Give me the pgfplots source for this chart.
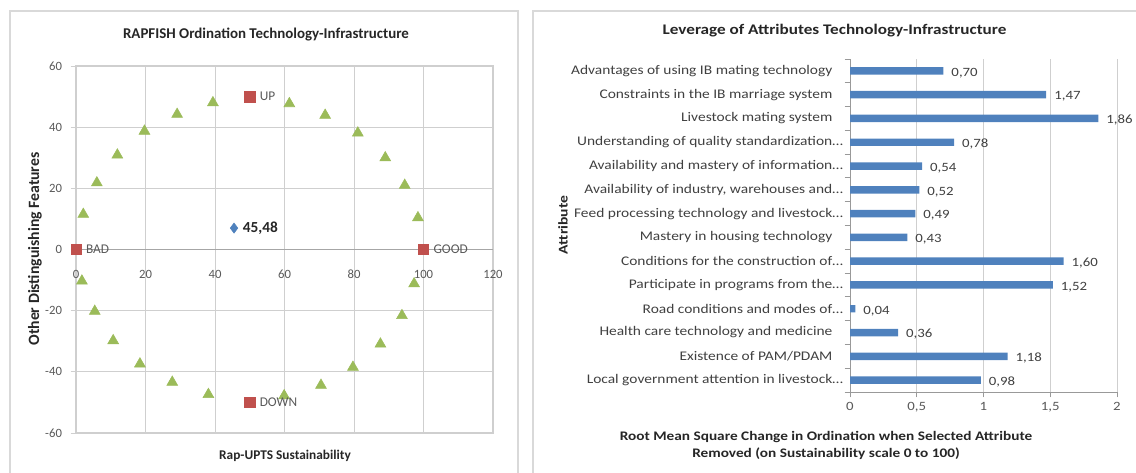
\documentclass[border=0pt]{standalone}
\usepackage{fontspec}
\setmainfont{Carlito}
\newfontfamily\rfont[FakeStretch=1.17]{Carlito}
\usepackage{pgfplots}
\pgfplotsset{compat=1.18}
\definecolor{tri}{HTML}{9BBB59}
\definecolor{sq}{HTML}{C0504D}
\definecolor{dia}{HTML}{4F81BD}
\definecolor{barc}{HTML}{4F81BD}
\definecolor{txt}{HTML}{595959}
\definecolor{lab}{HTML}{404040}
\definecolor{dark}{HTML}{262626}
\definecolor{gridc}{HTML}{CFCFCF}
\definecolor{bord}{HTML}{D9D9D9}
\newcommand{\pad}{\rule{8pt}{0pt}}
\begin{document}
\begin{tikzpicture}
\useasboundingbox (0pt,0pt) rectangle (852pt,354.75pt);
\draw[bord, line width=0.9pt] (7.5pt,-7.5pt) rectangle (388.5pt,346.5pt);
\draw[bord, line width=0.9pt] (399.75pt,-7.5pt) rectangle (858.75pt,346.5pt);
% ---------------- left chart ----------------
\node[font=\bfseries\fontsize{11.2}{13}\selectfont, text=dark] at (199.5pt,328.5pt) {RAPFISH Ordination Technology-Infrastructure};
\node[font=\bfseries\fontsize{10}{12}\selectfont, text=dark] at (213.75pt,12.75pt) {Rap-UPTS Sustainability};
\node[font=\bfseries\fontsize{11.8}{13}\selectfont, text=dark, rotate=90] at (26.25pt,168pt) {Other Distinguishing Features};
\begin{axis}[
  at={(57pt,30pt)}, anchor=south west, scale only axis,
  width=312.75pt, height=275.25pt,
  xmin=0, xmax=120, ymin=-60, ymax=60,
  xtick={0,20,...,120}, ytick={-60,-40,...,60},
  grid=major, grid style={gridc, line width=0.7pt},
  axis line style={gridc, line width=0.8pt},
  /pgf/number format/assume math mode=true,
  tick label style={font=\fontsize{9.5}{11}\selectfont, text=txt},
  xtick style={draw=none},
  ytick pos=left, tick align=outside, major tick length=4pt,
  ytick style={gridc, line width=0.7pt},
  xticklabel style={anchor=center, yshift=123.25pt},
  yticklabel style={xshift=-3pt},
  clip=false,
]
\draw[gray!70, line width=0.7pt] (axis cs:0,0) -- (axis cs:120,0);
\addplot[only marks, mark=triangle*, mark size=4.7pt, color=tri] coordinates {
(2.1,11.5)(6,21.8)(11.9,30.9)(19.7,38.7)(29.1,44.2)(39.4,48.0)
(61.4,47.7)(71.7,43.9)(81.1,38.1)(89,30.0)(94.6,21.0)(98.4,10.4)
(97.3,-11.2)(93.8,-21.6)(87.6,-30.9)(79.7,-38.5)(70.5,-44.4)(59.9,-47.8)
(38.1,-47.4)(27.7,-43.4)(18.4,-37.4)(10.7,-29.8)(5.4,-20.2)(1.7,-10.3)
};
\addplot[only marks, mark=square*, mark size=3.9pt, color=sq,
  nodes near coords, point meta=explicit symbolic,
  every node near coord/.append style={anchor=west, xshift=4pt, text=txt, font=\fontsize{10}{12}\selectfont}]
  table[meta=lab, row sep=\\] {
x y lab\\
0 0 BAD\\
100 0 GOOD\\
50 50 UP\\
50 -50 DOWN\\
};
\addplot[only marks, mark=diamond*, mark size=3.8pt, color=dia,
  nodes near coords={45,48}, point meta=explicit symbolic,
  every node near coord/.append style={anchor=west, xshift=3pt, text=dark, font=\bfseries\fontsize{11.5}{13}\selectfont}]
  coordinates {(45.48,7)};
\end{axis}
% ---------------- right chart ----------------
\node[font=\rfont\bfseries\fontsize{11}{13}\selectfont, text=dark] at (625.9pt,331.5pt) {Leverage of Attributes Technology-Infrastructure};
\node[font=\rfont\bfseries\fontsize{9.8}{12.75}\selectfont, text=dark, align=center] at (619.5pt,21pt) {Root Mean Square Change in Ordination when Selected Attribute\\Removed (on Sustainability scale 0 to 100)};
\node[font=\rfont\bfseries\fontsize{10}{12}\selectfont, text=dark, rotate=90] at (422.25pt,186pt) {Attribute};
\begin{axis}[
  at={(637.5pt,60.75pt)}, anchor=south west, scale only axis,
  width=200.25pt, height=249.75pt,
  xmin=0, xmax=2, ymin=-0.5, ymax=13.5,
  xbar, bar width=5.6pt,
  axis x line*=bottom, axis y line*=left,
  axis line style={gray!80, line width=0.7pt},
  xtick={0,0.5,...,2},
  xmajorgrids, grid style={gridc, line width=0.7pt},
  ytick={-0.5,0.5,...,13.5},
  y tick label as interval,
  yticklabels={
    Local government attention in livestock…,
    Existence of PAM/PDAM\pad,
    Health care technology and medicine\pad,
    Road conditions and modes of…,
    Participate in programs from the…,
    Conditions for the construction of…,
    Mastery in housing technology\pad,
    Feed processing technology and livestock…,
    {Availability of industry, warehouses and…},
    Availability and mastery of information…,
    Understanding of quality standardization…,
    Livestock mating system\pad,
    Constraints in the IB marriage system\pad,
    Advantages of using IB mating technology\pad},
  tick align=outside, major tick length=4pt,
  tick style={gray!80, line width=0.7pt},
  /pgf/number format/assume math mode=true,
  /pgf/number format/use comma,
  xticklabel style={font=\rfont\fontsize{9.5}{12}\selectfont, text=txt},
  yticklabel style={font=\rfont\fontsize{9.9}{12}\selectfont, text=lab, inner xsep=1pt},
  point meta=x,
  nodes near coords={\pgfmathprintnumber[fixed,fixed zerofill,precision=2,use comma]{\pgfplotspointmeta}},
  every node near coord/.append style={anchor=west, xshift=2.5pt, yshift=-1.5pt, text=lab, font=\rfont\fontsize{9.5}{12}\selectfont},
  clip=false,
]
\addplot[fill=barc, draw=none] coordinates {
(0.98,0) (1.18,1) (0.36,2) (0.04,3) (1.52,4) (1.60,5) (0.43,6)
(0.49,7) (0.52,8) (0.54,9) (0.78,10) (1.86,11) (1.47,12) (0.70,13)
};
\end{axis}
\end{tikzpicture}
\end{document}
